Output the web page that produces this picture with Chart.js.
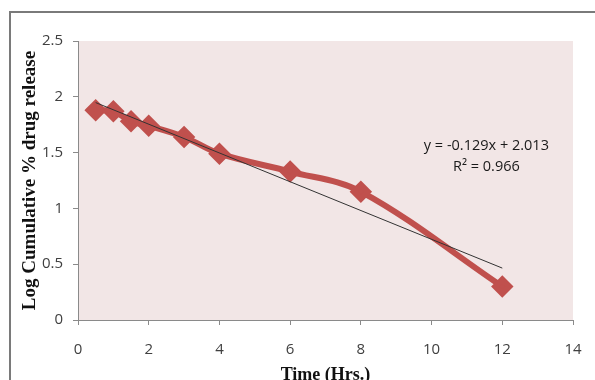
<!DOCTYPE html>
<html>
<head>
<meta charset="utf-8">
<script src="https://cdn.jsdelivr.net/npm/chart.js@4.4.1/dist/chart.umd.min.js"></script>
<style>
  html, body { margin: 0; padding: 0; background: #fff; }
  #wrap { width: 595px; height: 380px; position: relative; }
</style>
</head>
<body>
<div id="wrap"><canvas id="chart"></canvas></div>
<script>
const timeHrs = [0.5, 1, 1.5, 2, 3, 4, 6, 8, 12];
const logRelease = [1.88, 1.87, 1.78, 1.74, 1.64, 1.49, 1.33, 1.15, 0.30];
const trendX = [0.5, 12];
const trendY = [1.948, 0.465];
const equationLines = ['y = -0.129x + 2.013', 'R\u00b2 = 0.966'];

const red = 'rgb(192,80,77)';
const tickColor = '#404040';

const bgAndFrame = {
    id: 'bgAndFrame',
    beforeDraw(chart) {
        const { ctx, chartArea } = chart;
        ctx.save();
        ctx.fillStyle = 'rgb(242,230,230)';
        ctx.fillRect(chartArea.left, chartArea.top, chartArea.right - chartArea.left, chartArea.bottom - chartArea.top);
        ctx.strokeStyle = '#7a7a7a';
        ctx.lineWidth = 2;
        ctx.beginPath();
        ctx.moveTo(10, 380);
        ctx.lineTo(10, 12);
        ctx.lineTo(595, 12);
        ctx.stroke();
        ctx.restore();
    },
    afterDatasetsDraw(chart) {
        const { ctx, scales } = chart;
        const cx = scales.x.getPixelForValue(11.55);
        const cy = scales.y.getPixelForValue(1.56);
        ctx.save();
        ctx.fillStyle = '#1a1a1a';
        ctx.font = '14.5px "Open Sans"';
        ctx.textAlign = 'center';
        ctx.textBaseline = 'middle';
        ctx.fillText(equationLines[0], cx, cy);
        ctx.fillText(equationLines[1], cx, cy + 21);
        ctx.restore();
    }
};

new Chart(document.getElementById('chart'), {
    type: 'scatter',
    data: {
        datasets: [
            {
                data: timeHrs.map((t, i) => ({ x: t, y: logRelease[i] })),
                showLine: true,
                borderColor: red,
                backgroundColor: red,
                borderWidth: 6,
                tension: 0.35,
                pointStyle: 'rectRot',
                pointRadius: 7,
                pointHoverRadius: 7,
                order: 2,
            },
            {
                data: trendX.map((t, i) => ({ x: t, y: trendY[i] })),
                showLine: true,
                borderColor: '#333',
                borderWidth: 1,
                pointRadius: 0,
                order: 1,
            },
        ],
    },
    options: {
        responsive: true,
        maintainAspectRatio: false,
        animation: false,
        layout: { padding: { top: 41, right: 22, left: 0, bottom: 0 } },
        plugins: { legend: { display: false }, tooltip: { enabled: false } },
        scales: {
            x: {
                type: 'linear',
                min: 0, max: 14,
                ticks: { stepSize: 2, color: tickColor, font: { family: 'Open Sans', size: 15 }, padding: 16 },
                grid: { drawOnChartArea: false, color: '#8a8a8a', tickLength: 5 },
                border: { color: '#8a8a8a', width: 1 },
                title: { display: true, text: 'Time (Hrs.)', color: '#111', font: { family: 'Liberation Serif', size: 18, weight: 'bold' }, padding: { top: 0, bottom: -6 } },
                afterFit(scale) { scale.height = 60; scale.paddingRight = 0; scale.paddingLeft = 0; },
            },
            y: {
                min: 0, max: 2.5,
                ticks: {
                    stepSize: 0.5, color: tickColor, font: { family: 'Open Sans', size: 15 }, padding: 10,
                    callback: function(v) { return String(v); },
                },
                grid: { drawOnChartArea: false, color: '#8a8a8a', tickLength: 5 },
                border: { color: '#8a8a8a', width: 1 },
                title: { display: true, text: 'Log Cumulative % drug release', color: '#111', font: { family: 'Liberation Serif', size: 19, weight: 'bold' }, padding: { top: 19, bottom: 0 } },
                afterFit(scale) { scale.width = 78; scale.paddingTop = 0; scale.paddingBottom = 0; },
            },
        },
    },
    plugins: [bgAndFrame],
});
</script>
</body>
</html>
